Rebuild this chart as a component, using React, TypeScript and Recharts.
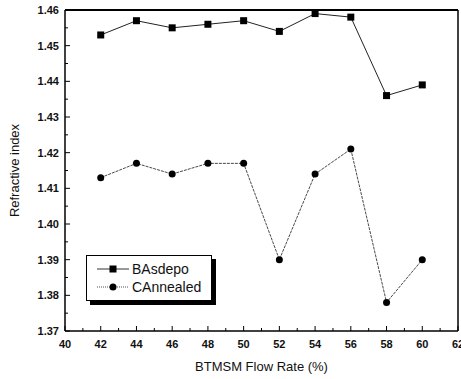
import React from 'react';
import { LineChart, Line, XAxis, YAxis, ReferenceLine } from 'recharts';

// BTMSM flow rate (%) vs refractive index
const flowRate = [42, 44, 46, 48, 50, 52, 54, 56, 58, 60];
const asDepo = [1.453, 1.457, 1.455, 1.456, 1.457, 1.454, 1.459, 1.458, 1.436, 1.439];
const annealed = [1.413, 1.417, 1.414, 1.417, 1.417, 1.39, 1.414, 1.421, 1.378, 1.39];

const xMajor = [40, 42, 44, 46, 48, 50, 52, 54, 56, 58, 60, 62];
const xMinor = [41, 43, 45, 47, 49, 51, 53, 55, 57, 59, 61];
const yMajor = [1.37, 1.38, 1.39, 1.4, 1.41, 1.42, 1.43, 1.44, 1.45, 1.46];
const yMinor = [1.375, 1.385, 1.395, 1.405, 1.415, 1.425, 1.435, 1.445, 1.455];

const data = flowRate.map((f, i) => ({ flow: f, asDepo: asDepo[i], annealed: annealed[i] }));

const font = 'Liberation Sans, Arial, sans-serif';

const isMajor = (list: number[], v: number) => list.some((m) => Math.abs(m - v) < 1e-6);

const XTick = (props: any) => {
  const { x, y, payload } = props;
  const major = isMajor(xMajor, payload.value);
  return (
    <g>
      <line x1={x} x2={x} y1={y} y2={y - (major ? 5 : 3)} stroke="#000" strokeWidth={1} />
      {major && (
        <text x={x} y={y + 17} textAnchor="middle" fontSize={11} fontWeight="bold" fontFamily={font} fill="#111">
          {payload.value}
        </text>
      )}
    </g>
  );
};

const YTick = (props: any) => {
  const { x, y, payload } = props;
  const major = isMajor(yMajor, payload.value);
  return (
    <g>
      <line x1={x} x2={x + (major ? 5 : 3)} y1={y} y2={y} stroke="#000" strokeWidth={1} />
      {major && (
        <text x={x - 6} y={y + 4} textAnchor="end" fontSize={11} fontWeight="bold" fontFamily={font} fill="#111">
          {payload.value.toFixed(2)}
        </text>
      )}
    </g>
  );
};

const SquareDot = (props: any) => {
  const { cx, cy } = props;
  return <rect x={cx - 3.5} y={cy - 3.5} width={7} height={7} fill="#000" />;
};

const LegendBox = () => (
  <div
    style={{
      position: 'absolute',
      left: 86,
      top: 255,
      width: 124,
      height: 44,
      border: '1px solid #000',
      boxShadow: '4px 4px 0 #000',
      background: '#fff',
    }}
  >
    <svg width={124} height={44} style={{ display: 'block' }}>
      <line x1={10} x2={42} y1={13} y2={13} stroke="#333" strokeWidth={1} />
      <rect x={22.5} y={9.5} width={7} height={7} fill="#000" />
      <text x={45} y={18} fontSize={14} fontFamily={font} fill="#111">BAsdepo</text>
      <line x1={10} x2={42} y1={31} y2={31} stroke="#555" strokeWidth={1} strokeDasharray="1 1" />
      <circle cx={26} cy={31} r={3.5} fill="#000" />
      <text x={45} y={36} fontSize={14} fontFamily={font} fill="#111">CAnnealed</text>
    </svg>
  </div>
);

export default function App() {
  return (
    <div style={{ position: 'absolute', left: 0, top: 0, width: 461, height: 379, background: '#fff' }}>
      <LineChart width={461} height={379} data={data} margin={{ top: 10, right: 3, bottom: 0, left: 0 }}>
        <XAxis
          dataKey="flow"
          type="number"
          domain={[40, 62]}
          ticks={[...xMajor, ...xMinor].sort((a, b) => a - b)}
          tick={<XTick />}
          tickLine={false}
          tickSize={0}
          tickMargin={0}
          height={48}
          stroke="#000"
          strokeWidth={1.5}
          interval={0}
          label={{ value: 'BTMSM Flow Rate (%)', position: 'insideBottom', offset: 8, fontSize: 13, fontFamily: font, fill: '#111' }}
        />
        <YAxis
          type="number"
          domain={[1.37, 1.46]}
          allowDataOverflow
          ticks={[...yMajor, ...yMinor].sort((a, b) => a - b)}
          tick={<YTick />}
          tickLine={false}
          tickSize={0}
          tickMargin={0}
          width={65}
          stroke="#000"
          strokeWidth={1.5}
          interval={0}
          label={{ value: 'Refractive index', angle: -90, position: 'insideLeft', offset: 14, fontSize: 13, fontFamily: font, fill: '#111', style: { textAnchor: 'middle' } }}
        />
        <ReferenceLine y={1.46} stroke="#000" strokeWidth={2} />
        <ReferenceLine x={62} stroke="#000" strokeWidth={1.5} />
        <Line
          dataKey="asDepo"
          name="BAsdepo"
          stroke="#222"
          strokeWidth={1}
          dot={<SquareDot />}
          isAnimationActive={false}
        />
        <Line
          dataKey="annealed"
          name="CAnnealed"
          stroke="#333"
          strokeWidth={0.9}
          strokeDasharray="3 1"
          dot={{ r: 3.5, fill: '#000', stroke: '#000', strokeWidth: 0 }}
          isAnimationActive={false}
        />
      </LineChart>
      <LegendBox />
    </div>
  );
}
